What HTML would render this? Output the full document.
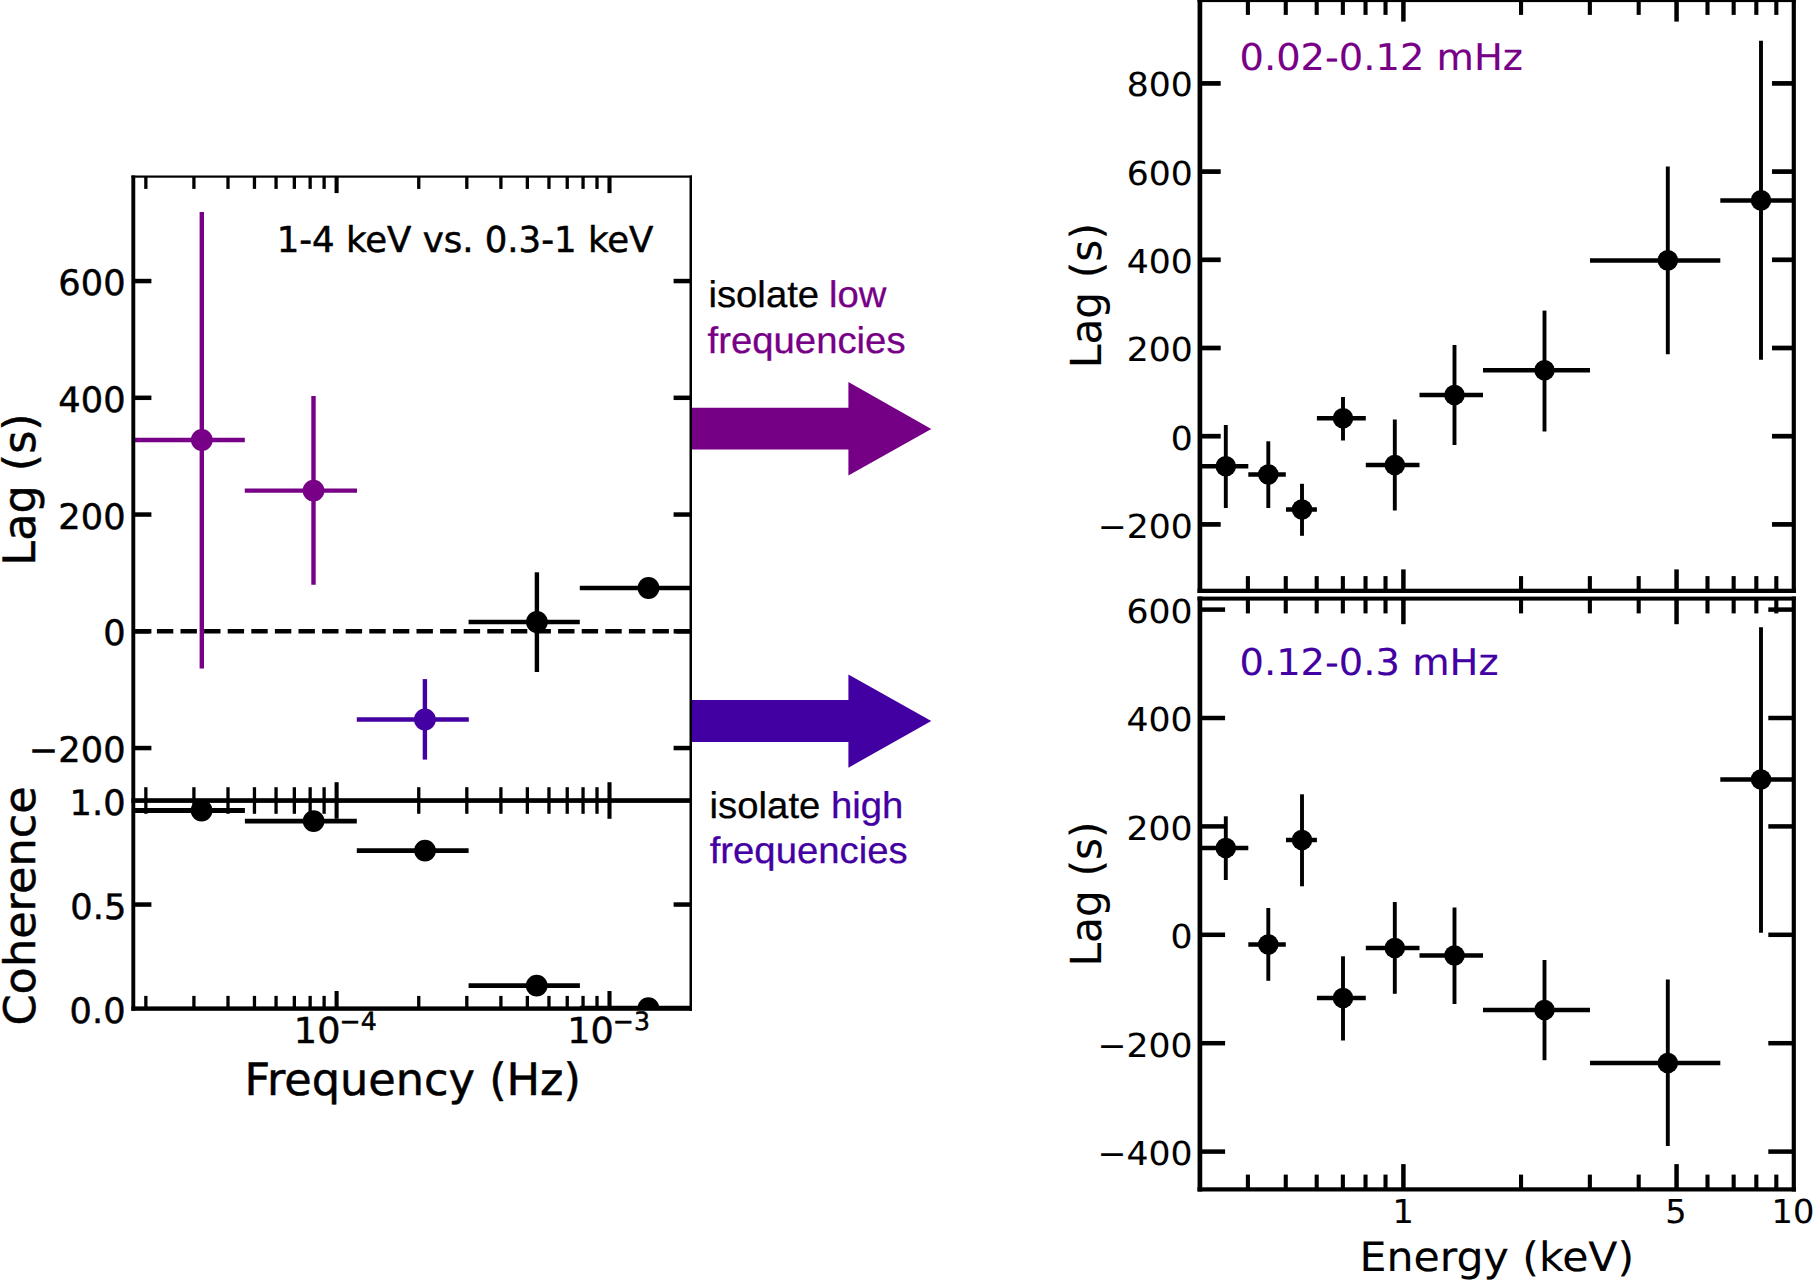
<!DOCTYPE html>
<html><head><meta charset="utf-8"><title>Lag-frequency and lag-energy spectra</title>
<style>html,body{margin:0;padding:0;background:#fff;}svg{display:block;}</style></head>
<body><svg width="1814" height="1280" viewBox="0 0 1814 1280" text-rendering="geometricPrecision">
<rect width="1814" height="1280" fill="#fff"/>
<clipPath id="cl1"><rect x="133.3" y="176.6" width="558.7" height="623.9"/></clipPath>
<clipPath id="cl2"><rect x="133.3" y="800.5" width="558.7" height="208.10000000000002"/></clipPath>
<g clip-path="url(#cl1)">
<line x1="133.30" y1="631.30" x2="692.00" y2="631.30" stroke="#000" stroke-width="4.6" stroke-dasharray="16.4 7.2"/>
<line x1="133.30" y1="440.00" x2="244.80" y2="440.00" stroke="#770087" stroke-width="4.4" />
<line x1="201.80" y1="212.10" x2="201.80" y2="668.40" stroke="#770087" stroke-width="4.4" />
<circle cx="201.80" cy="440.00" r="10.9" fill="#770087" />
<line x1="244.80" y1="490.60" x2="357.00" y2="490.60" stroke="#770087" stroke-width="4.4" />
<line x1="313.50" y1="396.00" x2="313.50" y2="584.70" stroke="#770087" stroke-width="4.4" />
<circle cx="313.50" cy="490.60" r="10.9" fill="#770087" />
<line x1="356.80" y1="719.50" x2="468.80" y2="719.50" stroke="#4300a2" stroke-width="4.4" />
<line x1="424.90" y1="679.10" x2="424.90" y2="759.60" stroke="#4300a2" stroke-width="4.4" />
<circle cx="424.90" cy="719.50" r="10.9" fill="#4300a2" />
<line x1="468.60" y1="622.00" x2="579.80" y2="622.00" stroke="#000" stroke-width="4.4" />
<line x1="536.90" y1="572.30" x2="536.90" y2="672.00" stroke="#000" stroke-width="4.4" />
<circle cx="536.90" cy="622.00" r="10.9" fill="#000" />
<line x1="579.80" y1="588.00" x2="692.00" y2="588.00" stroke="#000" stroke-width="4.4" />
<circle cx="648.50" cy="588.00" r="10.9" fill="#000" />
</g>
<g clip-path="url(#cl2)">
<line x1="133.30" y1="810.50" x2="244.90" y2="810.50" stroke="#000" stroke-width="4.8" />
<circle cx="201.60" cy="810.50" r="10.9" fill="#000" />
<line x1="244.90" y1="821.10" x2="356.80" y2="821.10" stroke="#000" stroke-width="4.8" />
<circle cx="313.60" cy="821.10" r="10.9" fill="#000" />
<line x1="356.80" y1="850.60" x2="468.60" y2="850.60" stroke="#000" stroke-width="4.8" />
<circle cx="425.00" cy="850.60" r="10.9" fill="#000" />
<line x1="468.60" y1="985.60" x2="579.90" y2="985.60" stroke="#000" stroke-width="4.8" />
<circle cx="536.70" cy="985.60" r="10.9" fill="#000" />
<line x1="579.90" y1="1008.10" x2="692.00" y2="1008.10" stroke="#000" stroke-width="4.8" />
<circle cx="648.40" cy="1008.10" r="10.9" fill="#000" />
</g>
<line x1="145.85" y1="176.60" x2="145.85" y2="188.90" stroke="#000" stroke-width="3.3" />
<line x1="145.85" y1="787.20" x2="145.85" y2="813.80" stroke="#000" stroke-width="3.3" />
<line x1="145.85" y1="1008.60" x2="145.85" y2="995.90" stroke="#000" stroke-width="3.3" />
<line x1="193.91" y1="176.60" x2="193.91" y2="188.90" stroke="#000" stroke-width="3.3" />
<line x1="193.91" y1="787.20" x2="193.91" y2="813.80" stroke="#000" stroke-width="3.3" />
<line x1="193.91" y1="1008.60" x2="193.91" y2="995.90" stroke="#000" stroke-width="3.3" />
<line x1="228.00" y1="176.60" x2="228.00" y2="188.90" stroke="#000" stroke-width="3.3" />
<line x1="228.00" y1="787.20" x2="228.00" y2="813.80" stroke="#000" stroke-width="3.3" />
<line x1="228.00" y1="1008.60" x2="228.00" y2="995.90" stroke="#000" stroke-width="3.3" />
<line x1="254.45" y1="176.60" x2="254.45" y2="188.90" stroke="#000" stroke-width="3.3" />
<line x1="254.45" y1="787.20" x2="254.45" y2="813.80" stroke="#000" stroke-width="3.3" />
<line x1="254.45" y1="1008.60" x2="254.45" y2="995.90" stroke="#000" stroke-width="3.3" />
<line x1="276.06" y1="176.60" x2="276.06" y2="188.90" stroke="#000" stroke-width="3.3" />
<line x1="276.06" y1="787.20" x2="276.06" y2="813.80" stroke="#000" stroke-width="3.3" />
<line x1="276.06" y1="1008.60" x2="276.06" y2="995.90" stroke="#000" stroke-width="3.3" />
<line x1="294.33" y1="176.60" x2="294.33" y2="188.90" stroke="#000" stroke-width="3.3" />
<line x1="294.33" y1="787.20" x2="294.33" y2="813.80" stroke="#000" stroke-width="3.3" />
<line x1="294.33" y1="1008.60" x2="294.33" y2="995.90" stroke="#000" stroke-width="3.3" />
<line x1="310.15" y1="176.60" x2="310.15" y2="188.90" stroke="#000" stroke-width="3.3" />
<line x1="310.15" y1="787.20" x2="310.15" y2="813.80" stroke="#000" stroke-width="3.3" />
<line x1="310.15" y1="1008.60" x2="310.15" y2="995.90" stroke="#000" stroke-width="3.3" />
<line x1="324.11" y1="176.60" x2="324.11" y2="188.90" stroke="#000" stroke-width="3.3" />
<line x1="324.11" y1="787.20" x2="324.11" y2="813.80" stroke="#000" stroke-width="3.3" />
<line x1="324.11" y1="1008.60" x2="324.11" y2="995.90" stroke="#000" stroke-width="3.3" />
<line x1="336.60" y1="176.60" x2="336.60" y2="193.10" stroke="#000" stroke-width="4.1" />
<line x1="336.60" y1="782.20" x2="336.60" y2="818.80" stroke="#000" stroke-width="4.1" />
<line x1="336.60" y1="1008.60" x2="336.60" y2="991.00" stroke="#000" stroke-width="4.1" />
<line x1="418.75" y1="176.60" x2="418.75" y2="188.90" stroke="#000" stroke-width="3.3" />
<line x1="418.75" y1="787.20" x2="418.75" y2="813.80" stroke="#000" stroke-width="3.3" />
<line x1="418.75" y1="1008.60" x2="418.75" y2="995.90" stroke="#000" stroke-width="3.3" />
<line x1="466.81" y1="176.60" x2="466.81" y2="188.90" stroke="#000" stroke-width="3.3" />
<line x1="466.81" y1="787.20" x2="466.81" y2="813.80" stroke="#000" stroke-width="3.3" />
<line x1="466.81" y1="1008.60" x2="466.81" y2="995.90" stroke="#000" stroke-width="3.3" />
<line x1="500.90" y1="176.60" x2="500.90" y2="188.90" stroke="#000" stroke-width="3.3" />
<line x1="500.90" y1="787.20" x2="500.90" y2="813.80" stroke="#000" stroke-width="3.3" />
<line x1="500.90" y1="1008.60" x2="500.90" y2="995.90" stroke="#000" stroke-width="3.3" />
<line x1="527.35" y1="176.60" x2="527.35" y2="188.90" stroke="#000" stroke-width="3.3" />
<line x1="527.35" y1="787.20" x2="527.35" y2="813.80" stroke="#000" stroke-width="3.3" />
<line x1="527.35" y1="1008.60" x2="527.35" y2="995.90" stroke="#000" stroke-width="3.3" />
<line x1="548.96" y1="176.60" x2="548.96" y2="188.90" stroke="#000" stroke-width="3.3" />
<line x1="548.96" y1="787.20" x2="548.96" y2="813.80" stroke="#000" stroke-width="3.3" />
<line x1="548.96" y1="1008.60" x2="548.96" y2="995.90" stroke="#000" stroke-width="3.3" />
<line x1="567.23" y1="176.60" x2="567.23" y2="188.90" stroke="#000" stroke-width="3.3" />
<line x1="567.23" y1="787.20" x2="567.23" y2="813.80" stroke="#000" stroke-width="3.3" />
<line x1="567.23" y1="1008.60" x2="567.23" y2="995.90" stroke="#000" stroke-width="3.3" />
<line x1="583.05" y1="176.60" x2="583.05" y2="188.90" stroke="#000" stroke-width="3.3" />
<line x1="583.05" y1="787.20" x2="583.05" y2="813.80" stroke="#000" stroke-width="3.3" />
<line x1="583.05" y1="1008.60" x2="583.05" y2="995.90" stroke="#000" stroke-width="3.3" />
<line x1="597.01" y1="176.60" x2="597.01" y2="188.90" stroke="#000" stroke-width="3.3" />
<line x1="597.01" y1="787.20" x2="597.01" y2="813.80" stroke="#000" stroke-width="3.3" />
<line x1="597.01" y1="1008.60" x2="597.01" y2="995.90" stroke="#000" stroke-width="3.3" />
<line x1="609.50" y1="176.60" x2="609.50" y2="193.10" stroke="#000" stroke-width="4.1" />
<line x1="609.50" y1="782.20" x2="609.50" y2="818.80" stroke="#000" stroke-width="4.1" />
<line x1="609.50" y1="1008.60" x2="609.50" y2="991.00" stroke="#000" stroke-width="4.1" />
<line x1="133.30" y1="281.05" x2="151.40" y2="281.05" stroke="#000" stroke-width="4.5" />
<line x1="690.70" y1="281.05" x2="673.60" y2="281.05" stroke="#000" stroke-width="4.5" />
<line x1="133.30" y1="397.80" x2="151.40" y2="397.80" stroke="#000" stroke-width="4.5" />
<line x1="690.70" y1="397.80" x2="673.60" y2="397.80" stroke="#000" stroke-width="4.5" />
<line x1="133.30" y1="514.55" x2="151.40" y2="514.55" stroke="#000" stroke-width="4.5" />
<line x1="690.70" y1="514.55" x2="673.60" y2="514.55" stroke="#000" stroke-width="4.5" />
<line x1="133.30" y1="631.30" x2="151.40" y2="631.30" stroke="#000" stroke-width="4.5" />
<line x1="690.70" y1="631.30" x2="673.60" y2="631.30" stroke="#000" stroke-width="4.5" />
<line x1="133.30" y1="748.05" x2="151.40" y2="748.05" stroke="#000" stroke-width="4.5" />
<line x1="690.70" y1="748.05" x2="673.60" y2="748.05" stroke="#000" stroke-width="4.5" />
<line x1="133.30" y1="904.55" x2="151.40" y2="904.55" stroke="#000" stroke-width="4.5" />
<line x1="690.70" y1="904.55" x2="673.60" y2="904.55" stroke="#000" stroke-width="4.5" />
<line x1="133.30" y1="175.50" x2="133.30" y2="1010.80" stroke="#000" stroke-width="3.9" />
<rect x="689.5" y="175.5" width="2.5" height="835.4" fill="#000"/>
<rect x="131.4" y="175.5" width="560.6" height="2.2" fill="#000"/>
<rect x="131.4" y="798.2" width="560.6" height="4.7" fill="#000"/>
<rect x="131.4" y="1006.4" width="560.6" height="4.4" fill="#000"/>
<text transform="translate(58.34,295.15) scale(0.3520,0.3520)" font-family='"DejaVu Sans", "Liberation Sans", sans-serif' font-size="100" fill="#000" stroke="#000" stroke-width="1.42" stroke-linejoin="round">600</text>
<text transform="translate(58.34,411.90) scale(0.3520,0.3520)" font-family='"DejaVu Sans", "Liberation Sans", sans-serif' font-size="100" fill="#000" stroke="#000" stroke-width="1.42" stroke-linejoin="round">400</text>
<text transform="translate(58.34,528.65) scale(0.3520,0.3520)" font-family='"DejaVu Sans", "Liberation Sans", sans-serif' font-size="100" fill="#000" stroke="#000" stroke-width="1.42" stroke-linejoin="round">200</text>
<text transform="translate(103.14,645.40) scale(0.3520,0.3520)" font-family='"DejaVu Sans", "Liberation Sans", sans-serif' font-size="100" fill="#000" stroke="#000" stroke-width="1.42" stroke-linejoin="round">0</text>
<text transform="translate(28.86,762.15) scale(0.3520,0.3520)" font-family='"DejaVu Sans", "Liberation Sans", sans-serif' font-size="100" fill="#000" stroke="#000" stroke-width="1.42" stroke-linejoin="round">−200</text>
<text transform="translate(69.62,815.00) scale(0.3520,0.3520)" font-family='"DejaVu Sans", "Liberation Sans", sans-serif' font-size="100" fill="#000" stroke="#000" stroke-width="1.42" stroke-linejoin="round">1.0</text>
<text transform="translate(70.32,918.85) scale(0.3520,0.3520)" font-family='"DejaVu Sans", "Liberation Sans", sans-serif' font-size="100" fill="#000" stroke="#000" stroke-width="1.42" stroke-linejoin="round">0.5</text>
<text transform="translate(69.62,1022.60) scale(0.3520,0.3520)" font-family='"DejaVu Sans", "Liberation Sans", sans-serif' font-size="100" fill="#000" stroke="#000" stroke-width="1.42" stroke-linejoin="round">0.0</text>
<text transform="translate(293.87,1043.30) scale(0.3660,0.3580)" font-family='"DejaVu Sans", "Liberation Sans", sans-serif' font-size="100" fill="#000" stroke="#000" stroke-width="1.38" stroke-linejoin="round">10</text>
<text transform="translate(339.55,1029.80) scale(0.2520,0.2520)" font-family='"DejaVu Sans", "Liberation Sans", sans-serif' font-size="100" fill="#000" stroke="#000" stroke-width="1.98" stroke-linejoin="round">−4</text>
<text transform="translate(567.17,1043.30) scale(0.3660,0.3580)" font-family='"DejaVu Sans", "Liberation Sans", sans-serif' font-size="100" fill="#000" stroke="#000" stroke-width="1.38" stroke-linejoin="round">10</text>
<text transform="translate(612.85,1029.80) scale(0.2520,0.2520)" font-family='"DejaVu Sans", "Liberation Sans", sans-serif' font-size="100" fill="#000" stroke="#000" stroke-width="1.98" stroke-linejoin="round">−3</text>
<text transform="translate(244.55,1095.00) scale(0.4460,0.4460)" font-family='"DejaVu Sans", "Liberation Sans", sans-serif' font-size="100" fill="#000" stroke="#000" stroke-width="1.12" stroke-linejoin="round">Frequency (Hz)</text>
<text transform="translate(35.20,565.64) rotate(-90) scale(0.4450,0.4450)" font-family='"DejaVu Sans", "Liberation Sans", sans-serif' font-size="100" fill="#000" stroke="#000" stroke-width="1.12" stroke-linejoin="round">Lag (s)</text>
<text transform="translate(35.00,1025.55) rotate(-90) scale(0.4460,0.4340)" font-family='"DejaVu Sans", "Liberation Sans", sans-serif' font-size="100" fill="#000" stroke="#000" stroke-width="1.14" stroke-linejoin="round">Coherence</text>
<text transform="translate(276.70,252.10) scale(0.3550,0.3550)" font-family='"DejaVu Sans", "Liberation Sans", sans-serif' font-size="100" fill="#000" stroke="#000" stroke-width="1.41" stroke-linejoin="round">1-4 keV vs. 0.3-1 keV</text>
<polygon points="692,407.8 848.4,407.8 848.4,382.1 931.3,428.9 848.4,475.6 848.4,449.5 692,449.5" fill="#750086"/>
<polygon points="692,700.0 848.4,700.0 848.4,674.6 931.3,721.0 848.4,767.7 848.4,741.9 692,741.9" fill="#4200a3"/>
<text transform="translate(708.41,307.40) scale(0.3830,0.3710)" font-family='"Liberation Sans", "DejaVu Sans", sans-serif' font-size="100" fill="#000" stroke="#000" stroke-width="0.80" stroke-linejoin="round">isolate</text>
<text transform="translate(829.05,307.40) scale(0.3830,0.3710)" font-family='"Liberation Sans", "DejaVu Sans", sans-serif' font-size="100" fill="#770087" stroke="#770087" stroke-width="0.80" stroke-linejoin="round">low</text>
<text transform="translate(707.53,352.60) scale(0.3830,0.3710)" font-family='"Liberation Sans", "DejaVu Sans", sans-serif' font-size="100" fill="#770087" stroke="#770087" stroke-width="0.80" stroke-linejoin="round">frequencies</text>
<text transform="translate(709.61,817.70) scale(0.3830,0.3710)" font-family='"Liberation Sans", "DejaVu Sans", sans-serif' font-size="100" fill="#000" stroke="#000" stroke-width="0.80" stroke-linejoin="round">isolate</text>
<text transform="translate(831.00,817.70) scale(0.3830,0.3710)" font-family='"Liberation Sans", "DejaVu Sans", sans-serif' font-size="100" fill="#4300a2" stroke="#4300a2" stroke-width="0.80" stroke-linejoin="round">high</text>
<text transform="translate(709.63,863.20) scale(0.3830,0.3710)" font-family='"Liberation Sans", "DejaVu Sans", sans-serif' font-size="100" fill="#4300a2" stroke="#4300a2" stroke-width="0.80" stroke-linejoin="round">frequencies</text>
<line x1="1200.00" y1="466.30" x2="1248.30" y2="466.30" stroke="#000" stroke-width="4.5" />
<line x1="1225.80" y1="425.00" x2="1225.80" y2="508.00" stroke="#000" stroke-width="3.8999999999999995" />
<circle cx="1225.80" cy="466.30" r="10.3" fill="#000" />
<line x1="1248.30" y1="474.50" x2="1285.80" y2="474.50" stroke="#000" stroke-width="4.5" />
<line x1="1268.30" y1="441.30" x2="1268.30" y2="508.00" stroke="#000" stroke-width="3.8999999999999995" />
<circle cx="1268.30" cy="474.50" r="10.3" fill="#000" />
<line x1="1286.00" y1="509.50" x2="1316.90" y2="509.50" stroke="#000" stroke-width="4.5" />
<line x1="1302.00" y1="483.80" x2="1302.00" y2="535.80" stroke="#000" stroke-width="3.8999999999999995" />
<circle cx="1302.00" cy="509.50" r="10.3" fill="#000" />
<line x1="1316.90" y1="418.30" x2="1365.80" y2="418.30" stroke="#000" stroke-width="4.5" />
<line x1="1343.00" y1="397.00" x2="1343.00" y2="440.50" stroke="#000" stroke-width="3.8999999999999995" />
<circle cx="1343.00" cy="418.30" r="10.3" fill="#000" />
<line x1="1365.80" y1="465.00" x2="1419.50" y2="465.00" stroke="#000" stroke-width="4.5" />
<line x1="1394.80" y1="419.50" x2="1394.80" y2="510.50" stroke="#000" stroke-width="3.8999999999999995" />
<circle cx="1394.80" cy="465.00" r="10.3" fill="#000" />
<line x1="1419.50" y1="395.00" x2="1483.00" y2="395.00" stroke="#000" stroke-width="4.5" />
<line x1="1454.50" y1="345.00" x2="1454.50" y2="445.00" stroke="#000" stroke-width="3.8999999999999995" />
<circle cx="1454.50" cy="395.00" r="10.3" fill="#000" />
<line x1="1483.00" y1="370.30" x2="1590.00" y2="370.30" stroke="#000" stroke-width="4.5" />
<line x1="1544.50" y1="310.60" x2="1544.50" y2="431.50" stroke="#000" stroke-width="3.8999999999999995" />
<circle cx="1544.50" cy="370.30" r="10.3" fill="#000" />
<line x1="1590.00" y1="260.40" x2="1720.30" y2="260.40" stroke="#000" stroke-width="4.5" />
<line x1="1667.80" y1="166.50" x2="1667.80" y2="354.20" stroke="#000" stroke-width="3.8999999999999995" />
<circle cx="1667.80" cy="260.40" r="10.3" fill="#000" />
<line x1="1720.30" y1="200.40" x2="1794.00" y2="200.40" stroke="#000" stroke-width="4.5" />
<line x1="1761.00" y1="40.80" x2="1761.00" y2="359.80" stroke="#000" stroke-width="3.8999999999999995" />
<circle cx="1761.00" cy="200.40" r="10.3" fill="#000" />
<line x1="1200.00" y1="848.00" x2="1248.30" y2="848.00" stroke="#000" stroke-width="4.5" />
<line x1="1225.80" y1="816.30" x2="1225.80" y2="880.00" stroke="#000" stroke-width="3.8999999999999995" />
<circle cx="1225.80" cy="848.00" r="10.3" fill="#000" />
<line x1="1248.30" y1="944.50" x2="1285.80" y2="944.50" stroke="#000" stroke-width="4.5" />
<line x1="1268.30" y1="908.00" x2="1268.30" y2="980.80" stroke="#000" stroke-width="3.8999999999999995" />
<circle cx="1268.30" cy="944.50" r="10.3" fill="#000" />
<line x1="1286.00" y1="840.00" x2="1316.90" y2="840.00" stroke="#000" stroke-width="4.5" />
<line x1="1302.00" y1="794.30" x2="1302.00" y2="886.30" stroke="#000" stroke-width="3.8999999999999995" />
<circle cx="1302.00" cy="840.00" r="10.3" fill="#000" />
<line x1="1316.90" y1="998.00" x2="1365.80" y2="998.00" stroke="#000" stroke-width="4.5" />
<line x1="1343.00" y1="956.30" x2="1343.00" y2="1040.50" stroke="#000" stroke-width="3.8999999999999995" />
<circle cx="1343.00" cy="998.00" r="10.3" fill="#000" />
<line x1="1365.80" y1="948.00" x2="1419.50" y2="948.00" stroke="#000" stroke-width="4.5" />
<line x1="1394.80" y1="902.00" x2="1394.80" y2="993.80" stroke="#000" stroke-width="3.8999999999999995" />
<circle cx="1394.80" cy="948.00" r="10.3" fill="#000" />
<line x1="1419.50" y1="955.50" x2="1483.00" y2="955.50" stroke="#000" stroke-width="4.5" />
<line x1="1454.50" y1="907.50" x2="1454.50" y2="1004.00" stroke="#000" stroke-width="3.8999999999999995" />
<circle cx="1454.50" cy="955.50" r="10.3" fill="#000" />
<line x1="1483.00" y1="1010.00" x2="1590.00" y2="1010.00" stroke="#000" stroke-width="4.5" />
<line x1="1544.50" y1="960.00" x2="1544.50" y2="1060.20" stroke="#000" stroke-width="3.8999999999999995" />
<circle cx="1544.50" cy="1010.00" r="10.3" fill="#000" />
<line x1="1590.00" y1="1063.00" x2="1720.30" y2="1063.00" stroke="#000" stroke-width="4.5" />
<line x1="1667.80" y1="979.60" x2="1667.80" y2="1146.00" stroke="#000" stroke-width="3.8999999999999995" />
<circle cx="1667.80" cy="1063.00" r="10.3" fill="#000" />
<line x1="1720.30" y1="779.50" x2="1794.00" y2="779.50" stroke="#000" stroke-width="4.5" />
<line x1="1761.00" y1="627.20" x2="1761.00" y2="932.80" stroke="#000" stroke-width="3.8999999999999995" />
<circle cx="1761.00" cy="779.50" r="10.3" fill="#000" />
<line x1="1247.89" y1="0.20" x2="1247.89" y2="14.90" stroke="#000" stroke-width="4.1" />
<line x1="1247.89" y1="590.80" x2="1247.89" y2="576.10" stroke="#000" stroke-width="4.1" />
<line x1="1285.76" y1="0.20" x2="1285.76" y2="14.90" stroke="#000" stroke-width="4.1" />
<line x1="1285.76" y1="590.80" x2="1285.76" y2="576.10" stroke="#000" stroke-width="4.1" />
<line x1="1316.70" y1="0.20" x2="1316.70" y2="14.90" stroke="#000" stroke-width="4.1" />
<line x1="1316.70" y1="590.80" x2="1316.70" y2="576.10" stroke="#000" stroke-width="4.1" />
<line x1="1342.86" y1="0.20" x2="1342.86" y2="14.90" stroke="#000" stroke-width="4.1" />
<line x1="1342.86" y1="590.80" x2="1342.86" y2="576.10" stroke="#000" stroke-width="4.1" />
<line x1="1365.53" y1="0.20" x2="1365.53" y2="14.90" stroke="#000" stroke-width="4.1" />
<line x1="1365.53" y1="590.80" x2="1365.53" y2="576.10" stroke="#000" stroke-width="4.1" />
<line x1="1385.52" y1="0.20" x2="1385.52" y2="14.90" stroke="#000" stroke-width="4.1" />
<line x1="1385.52" y1="590.80" x2="1385.52" y2="576.10" stroke="#000" stroke-width="4.1" />
<line x1="1403.40" y1="0.20" x2="1403.40" y2="21.60" stroke="#000" stroke-width="4.5" />
<line x1="1403.40" y1="590.80" x2="1403.40" y2="569.40" stroke="#000" stroke-width="4.5" />
<line x1="1521.04" y1="0.20" x2="1521.04" y2="14.90" stroke="#000" stroke-width="4.1" />
<line x1="1521.04" y1="590.80" x2="1521.04" y2="576.10" stroke="#000" stroke-width="4.1" />
<line x1="1589.86" y1="0.20" x2="1589.86" y2="14.90" stroke="#000" stroke-width="4.1" />
<line x1="1589.86" y1="590.80" x2="1589.86" y2="576.10" stroke="#000" stroke-width="4.1" />
<line x1="1638.69" y1="0.20" x2="1638.69" y2="14.90" stroke="#000" stroke-width="4.1" />
<line x1="1638.69" y1="590.80" x2="1638.69" y2="576.10" stroke="#000" stroke-width="4.1" />
<line x1="1676.56" y1="0.20" x2="1676.56" y2="21.60" stroke="#000" stroke-width="4.5" />
<line x1="1676.56" y1="590.80" x2="1676.56" y2="569.40" stroke="#000" stroke-width="4.5" />
<line x1="1707.50" y1="0.20" x2="1707.50" y2="14.90" stroke="#000" stroke-width="4.1" />
<line x1="1707.50" y1="590.80" x2="1707.50" y2="576.10" stroke="#000" stroke-width="4.1" />
<line x1="1733.66" y1="0.20" x2="1733.66" y2="14.90" stroke="#000" stroke-width="4.1" />
<line x1="1733.66" y1="590.80" x2="1733.66" y2="576.10" stroke="#000" stroke-width="4.1" />
<line x1="1756.33" y1="0.20" x2="1756.33" y2="14.90" stroke="#000" stroke-width="4.1" />
<line x1="1756.33" y1="590.80" x2="1756.33" y2="576.10" stroke="#000" stroke-width="4.1" />
<line x1="1776.32" y1="0.20" x2="1776.32" y2="14.90" stroke="#000" stroke-width="4.1" />
<line x1="1776.32" y1="590.80" x2="1776.32" y2="576.10" stroke="#000" stroke-width="4.1" />
<line x1="1247.89" y1="598.60" x2="1247.89" y2="613.40" stroke="#000" stroke-width="4.1" />
<line x1="1247.89" y1="1189.40" x2="1247.89" y2="1174.60" stroke="#000" stroke-width="4.1" />
<line x1="1285.76" y1="598.60" x2="1285.76" y2="613.40" stroke="#000" stroke-width="4.1" />
<line x1="1285.76" y1="1189.40" x2="1285.76" y2="1174.60" stroke="#000" stroke-width="4.1" />
<line x1="1316.70" y1="598.60" x2="1316.70" y2="613.40" stroke="#000" stroke-width="4.1" />
<line x1="1316.70" y1="1189.40" x2="1316.70" y2="1174.60" stroke="#000" stroke-width="4.1" />
<line x1="1342.86" y1="598.60" x2="1342.86" y2="613.40" stroke="#000" stroke-width="4.1" />
<line x1="1342.86" y1="1189.40" x2="1342.86" y2="1174.60" stroke="#000" stroke-width="4.1" />
<line x1="1365.53" y1="598.60" x2="1365.53" y2="613.40" stroke="#000" stroke-width="4.1" />
<line x1="1365.53" y1="1189.40" x2="1365.53" y2="1174.60" stroke="#000" stroke-width="4.1" />
<line x1="1385.52" y1="598.60" x2="1385.52" y2="613.40" stroke="#000" stroke-width="4.1" />
<line x1="1385.52" y1="1189.40" x2="1385.52" y2="1174.60" stroke="#000" stroke-width="4.1" />
<line x1="1403.40" y1="598.60" x2="1403.40" y2="624.20" stroke="#000" stroke-width="4.5" />
<line x1="1403.40" y1="1189.40" x2="1403.40" y2="1164.10" stroke="#000" stroke-width="4.5" />
<line x1="1521.04" y1="598.60" x2="1521.04" y2="613.40" stroke="#000" stroke-width="4.1" />
<line x1="1521.04" y1="1189.40" x2="1521.04" y2="1174.60" stroke="#000" stroke-width="4.1" />
<line x1="1589.86" y1="598.60" x2="1589.86" y2="613.40" stroke="#000" stroke-width="4.1" />
<line x1="1589.86" y1="1189.40" x2="1589.86" y2="1174.60" stroke="#000" stroke-width="4.1" />
<line x1="1638.69" y1="598.60" x2="1638.69" y2="613.40" stroke="#000" stroke-width="4.1" />
<line x1="1638.69" y1="1189.40" x2="1638.69" y2="1174.60" stroke="#000" stroke-width="4.1" />
<line x1="1676.56" y1="598.60" x2="1676.56" y2="624.20" stroke="#000" stroke-width="4.5" />
<line x1="1676.56" y1="1189.40" x2="1676.56" y2="1164.10" stroke="#000" stroke-width="4.5" />
<line x1="1707.50" y1="598.60" x2="1707.50" y2="613.40" stroke="#000" stroke-width="4.1" />
<line x1="1707.50" y1="1189.40" x2="1707.50" y2="1174.60" stroke="#000" stroke-width="4.1" />
<line x1="1733.66" y1="598.60" x2="1733.66" y2="613.40" stroke="#000" stroke-width="4.1" />
<line x1="1733.66" y1="1189.40" x2="1733.66" y2="1174.60" stroke="#000" stroke-width="4.1" />
<line x1="1756.33" y1="598.60" x2="1756.33" y2="613.40" stroke="#000" stroke-width="4.1" />
<line x1="1756.33" y1="1189.40" x2="1756.33" y2="1174.60" stroke="#000" stroke-width="4.1" />
<line x1="1776.32" y1="598.60" x2="1776.32" y2="613.40" stroke="#000" stroke-width="4.1" />
<line x1="1776.32" y1="1189.40" x2="1776.32" y2="1174.60" stroke="#000" stroke-width="4.1" />
<line x1="1199.90" y1="83.40" x2="1220.70" y2="83.40" stroke="#000" stroke-width="4.7" />
<line x1="1793.80" y1="83.40" x2="1772.00" y2="83.40" stroke="#000" stroke-width="4.7" />
<line x1="1199.90" y1="171.60" x2="1220.70" y2="171.60" stroke="#000" stroke-width="4.7" />
<line x1="1793.80" y1="171.60" x2="1772.00" y2="171.60" stroke="#000" stroke-width="4.7" />
<line x1="1199.90" y1="259.80" x2="1220.70" y2="259.80" stroke="#000" stroke-width="4.7" />
<line x1="1793.80" y1="259.80" x2="1772.00" y2="259.80" stroke="#000" stroke-width="4.7" />
<line x1="1199.90" y1="348.00" x2="1220.70" y2="348.00" stroke="#000" stroke-width="4.7" />
<line x1="1793.80" y1="348.00" x2="1772.00" y2="348.00" stroke="#000" stroke-width="4.7" />
<line x1="1199.90" y1="436.20" x2="1220.70" y2="436.20" stroke="#000" stroke-width="4.7" />
<line x1="1793.80" y1="436.20" x2="1772.00" y2="436.20" stroke="#000" stroke-width="4.7" />
<line x1="1199.90" y1="524.40" x2="1220.70" y2="524.40" stroke="#000" stroke-width="4.7" />
<line x1="1793.80" y1="524.40" x2="1772.00" y2="524.40" stroke="#000" stroke-width="4.7" />
<line x1="1199.90" y1="609.60" x2="1225.10" y2="609.60" stroke="#000" stroke-width="4.5" />
<line x1="1793.80" y1="609.60" x2="1768.30" y2="609.60" stroke="#000" stroke-width="4.5" />
<line x1="1199.90" y1="718.00" x2="1225.10" y2="718.00" stroke="#000" stroke-width="4.5" />
<line x1="1793.80" y1="718.00" x2="1768.30" y2="718.00" stroke="#000" stroke-width="4.5" />
<line x1="1199.90" y1="826.40" x2="1225.10" y2="826.40" stroke="#000" stroke-width="4.5" />
<line x1="1793.80" y1="826.40" x2="1768.30" y2="826.40" stroke="#000" stroke-width="4.5" />
<line x1="1199.90" y1="934.80" x2="1225.10" y2="934.80" stroke="#000" stroke-width="4.5" />
<line x1="1793.80" y1="934.80" x2="1768.30" y2="934.80" stroke="#000" stroke-width="4.5" />
<line x1="1199.90" y1="1043.20" x2="1225.10" y2="1043.20" stroke="#000" stroke-width="4.5" />
<line x1="1793.80" y1="1043.20" x2="1768.30" y2="1043.20" stroke="#000" stroke-width="4.5" />
<line x1="1199.90" y1="1151.60" x2="1225.10" y2="1151.60" stroke="#000" stroke-width="4.5" />
<line x1="1793.80" y1="1151.60" x2="1768.30" y2="1151.60" stroke="#000" stroke-width="4.5" />
<line x1="1199.90" y1="0.00" x2="1199.90" y2="593.00" stroke="#000" stroke-width="4.7" />
<line x1="1793.80" y1="0.00" x2="1793.80" y2="593.00" stroke="#000" stroke-width="4.2" />
<line x1="1199.90" y1="596.60" x2="1199.90" y2="1191.50" stroke="#000" stroke-width="4.7" />
<line x1="1793.80" y1="596.60" x2="1793.80" y2="1191.50" stroke="#000" stroke-width="4.2" />
<rect x="1197.5" y="0" width="598.4" height="2.1" fill="#000"/>
<rect x="1197.5" y="588.7" width="598.4" height="4.3" fill="#000"/>
<rect x="1197.5" y="596.6" width="598.4" height="4.0" fill="#000"/>
<rect x="1197.5" y="1187.3" width="598.4" height="4.2" fill="#000"/>
<text transform="translate(1126.75,96.40) scale(0.3460,0.3300)" font-family='"DejaVu Sans", "Liberation Sans", sans-serif' font-size="100" fill="#000" stroke="#000" stroke-width="0.36" stroke-linejoin="round">800</text>
<text transform="translate(1126.75,184.90) scale(0.3460,0.3300)" font-family='"DejaVu Sans", "Liberation Sans", sans-serif' font-size="100" fill="#000" stroke="#000" stroke-width="0.36" stroke-linejoin="round">600</text>
<text transform="translate(1126.75,273.40) scale(0.3460,0.3300)" font-family='"DejaVu Sans", "Liberation Sans", sans-serif' font-size="100" fill="#000" stroke="#000" stroke-width="0.36" stroke-linejoin="round">400</text>
<text transform="translate(1126.75,361.30) scale(0.3460,0.3300)" font-family='"DejaVu Sans", "Liberation Sans", sans-serif' font-size="100" fill="#000" stroke="#000" stroke-width="0.36" stroke-linejoin="round">200</text>
<text transform="translate(1170.78,449.60) scale(0.3460,0.3300)" font-family='"DejaVu Sans", "Liberation Sans", sans-serif' font-size="100" fill="#000" stroke="#000" stroke-width="0.36" stroke-linejoin="round">0</text>
<text transform="translate(1097.77,537.70) scale(0.3460,0.3300)" font-family='"DejaVu Sans", "Liberation Sans", sans-serif' font-size="100" fill="#000" stroke="#000" stroke-width="0.36" stroke-linejoin="round">−200</text>
<text transform="translate(1126.55,623.10) scale(0.3460,0.3300)" font-family='"DejaVu Sans", "Liberation Sans", sans-serif' font-size="100" fill="#000" stroke="#000" stroke-width="0.36" stroke-linejoin="round">600</text>
<text transform="translate(1126.55,731.40) scale(0.3460,0.3300)" font-family='"DejaVu Sans", "Liberation Sans", sans-serif' font-size="100" fill="#000" stroke="#000" stroke-width="0.36" stroke-linejoin="round">400</text>
<text transform="translate(1126.55,839.80) scale(0.3460,0.3300)" font-family='"DejaVu Sans", "Liberation Sans", sans-serif' font-size="100" fill="#000" stroke="#000" stroke-width="0.36" stroke-linejoin="round">200</text>
<text transform="translate(1170.58,948.40) scale(0.3460,0.3300)" font-family='"DejaVu Sans", "Liberation Sans", sans-serif' font-size="100" fill="#000" stroke="#000" stroke-width="0.36" stroke-linejoin="round">0</text>
<text transform="translate(1097.57,1056.50) scale(0.3460,0.3300)" font-family='"DejaVu Sans", "Liberation Sans", sans-serif' font-size="100" fill="#000" stroke="#000" stroke-width="0.36" stroke-linejoin="round">−200</text>
<text transform="translate(1097.57,1164.60) scale(0.3460,0.3300)" font-family='"DejaVu Sans", "Liberation Sans", sans-serif' font-size="100" fill="#000" stroke="#000" stroke-width="0.36" stroke-linejoin="round">−400</text>
<text transform="translate(1392.60,1222.80) scale(0.3360,0.3300)" font-family='"DejaVu Sans", "Liberation Sans", sans-serif' font-size="100" fill="#000" stroke="#000" stroke-width="0.36" stroke-linejoin="round">1</text>
<text transform="translate(1665.16,1222.80) scale(0.3360,0.3300)" font-family='"DejaVu Sans", "Liberation Sans", sans-serif' font-size="100" fill="#000" stroke="#000" stroke-width="0.36" stroke-linejoin="round">5</text>
<text transform="translate(1771.60,1222.80) scale(0.3360,0.3300)" font-family='"DejaVu Sans", "Liberation Sans", sans-serif' font-size="100" fill="#000" stroke="#000" stroke-width="0.36" stroke-linejoin="round">10</text>
<text transform="translate(1359.44,1270.50) scale(0.4265,0.4040)" font-family='"DejaVu Sans", "Liberation Sans", sans-serif' font-size="100" fill="#000" stroke="#000" stroke-width="0.29" stroke-linejoin="round">Energy (keV)</text>
<text transform="translate(1101.20,368.23) rotate(-90) scale(0.4240,0.4280)" font-family='"DejaVu Sans", "Liberation Sans", sans-serif' font-size="100" fill="#000" stroke="#000" stroke-width="0.28" stroke-linejoin="round">Lag (s)</text>
<text transform="translate(1101.20,966.53) rotate(-90) scale(0.4240,0.4280)" font-family='"DejaVu Sans", "Liberation Sans", sans-serif' font-size="100" fill="#000" stroke="#000" stroke-width="0.28" stroke-linejoin="round">Lag (s)</text>
<text transform="translate(1239.50,70.20) scale(0.3840,0.3680)" font-family='"DejaVu Sans", "Liberation Sans", sans-serif' font-size="100" fill="#770087" stroke="#770087" stroke-width="0.32" stroke-linejoin="round">0.02-0.12 mHz</text>
<text transform="translate(1239.50,674.60) scale(0.3840,0.3680)" font-family='"DejaVu Sans", "Liberation Sans", sans-serif' font-size="100" fill="#4300a2" stroke="#4300a2" stroke-width="0.32" stroke-linejoin="round">0.12-0.3 mHz</text>
</svg></body></html>
